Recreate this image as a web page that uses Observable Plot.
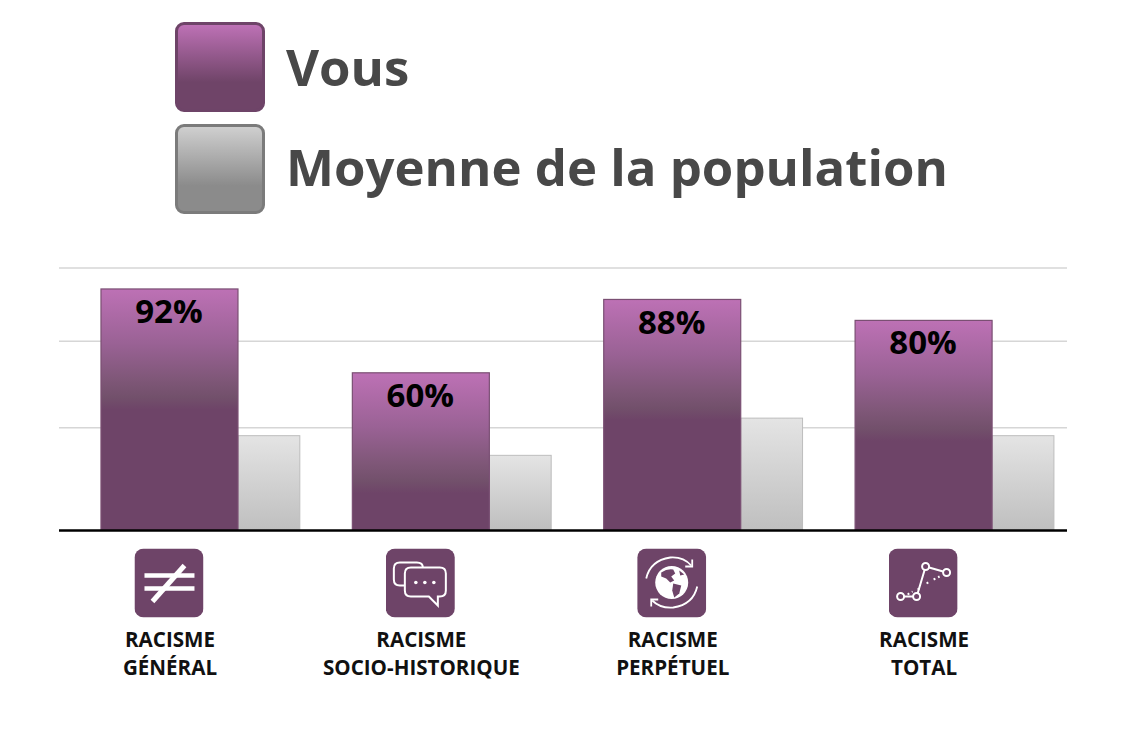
<!DOCTYPE html>
<html lang="fr">
<head>
<meta charset="utf-8">
<script src="https://cdn.jsdelivr.net/npm/d3@7"></script>
<script src="https://cdn.jsdelivr.net/npm/@observablehq/plot@0.6"></script>
<style>
html,body{margin:0;padding:0;background:#fff;width:1125px;height:746px;overflow:hidden}
#legend{position:relative;height:235px;width:1125px;font-family:"Open Sans",sans-serif;font-weight:700;color:#484848}
.sw{position:absolute;left:175px;width:84px;height:84px;border-radius:9px;border-style:solid;border-width:3px}
.lb{position:absolute;left:286px;font-size:50.9px;line-height:60px;white-space:nowrap}
svg{display:block}
</style>
</head>
<body>
<div id="legend">
  <div class="sw" style="top:22px;border-color:#6e4468;background:linear-gradient(#bd71b5 0%,#6f4468 68%,#6f4468 100%)"></div>
  <div class="lb" style="top:37px">Vous</div>
  <div class="sw" style="top:124px;border-color:#7b7b7b;background:linear-gradient(#cfcfcf 0%,#8b8b8b 70%,#8b8b8b 100%)"></div>
  <div class="lb" style="top:137px">Moyenne de la population</div>
</div>
<div id="chart"></div>
<script>
const categories = ["RACISME\nGÉNÉRAL", "RACISME\nSOCIO-HISTORIQUE", "RACISME\nPERPÉTUEL", "RACISME\nTOTAL"];
const vous = [92, 60, 88, 80];
const population = [36, 28.5, 42.7, 36];
const gridValues = [100, 72, 39];

const white = 'stroke="#fff" fill="none"';
const iconShapes = [
  `<path d="M10 27H60M10 40H60" ${white} stroke-width="4.5"/><path d="M50 17L18 53" ${white} stroke-width="5"/>`,
  `<path d="M20 37H14Q8 37 8 31V20Q8 14 14 14H31Q37 14 37 19" ${white} stroke-width="2"/>
   <path d="M25 19H54Q60 19 60 25V42Q60 48 54 48H52V57L43 48H25Q19 48 19 42V25Q19 19 25 19Z" ${white} stroke-width="2" style="fill:#6e4468"/>
   <circle cx="30" cy="34" r="1.8" fill="#fff"/><circle cx="39" cy="34" r="1.8" fill="#fff"/><circle cx="48" cy="34" r="1.8" fill="#fff"/>`,
  `<circle cx="34.5" cy="34" r="16.5" fill="#fff"/>
   <path d="M24 24Q30 20 36 21L38 25L34 28L37 32L33 34L29 30L24 28Z" fill="#6e4468"/>
   <path d="M36 35L44 37L42 45L37 49L35 42Z" fill="#6e4468"/><path d="M42 22L47 26L43 27Z" fill="#6e4468"/>
   <path d="M9 30Q13 12 33 9Q46 8 54 17" ${white} stroke-width="1.8"/><path d="M55 11L55 18L48 18" ${white} stroke-width="1.8"/>
   <path d="M60 38Q56 56 36 59Q23 60 15 52" ${white} stroke-width="1.8"/><path d="M14 58L14 51L21 51" ${white} stroke-width="1.8"/>`,
  `<path d="M19 46L24 43M29 41L33 39M38 35L41 33M45 31L51 28" ${white} stroke-width="2" stroke-dasharray="2 3"/>
   <path d="M15.5 48H24.5M29 45L36 21.5M40.5 19L54.5 23" ${white} stroke-width="2"/>
   <circle cx="12" cy="48" r="3.5" ${white} stroke-width="2"/><circle cx="28" cy="48" r="3.5" ${white} stroke-width="2"/>
   <circle cx="37" cy="18" r="3.5" ${white} stroke-width="2"/><circle cx="58" cy="24" r="3.5" ${white} stroke-width="2"/>`
];
const iconSrc = inner => "data:image/svg+xml;charset=utf-8," + encodeURIComponent(
  `<svg xmlns="http://www.w3.org/2000/svg" viewBox="0 0 69 69" width="69" height="69"><rect width="69" height="69" rx="9" fill="#6e4468"/>${inner}</svg>`);

// Layout in group units: each group = 1 step, a wide bar then a narrow bar
const wideBar = 0.545, narrowBar = 0.246;
const rows = categories.map((c, i) => ({
  c, i, vous: vous[i], pop: population[i],
  center: i + wideBar / 2,
  label: vous[i] + "%",
  icon: iconSrc(iconShapes[i])
}));

// The bars' gradient runs a fixed length from the top of each bar
const fadeLength = 46;
const gradients = () => {
  const defs = d3.create("svg:defs");
  rows.forEach(r => {
    const g = defs.append("linearGradient").attr("id", "v" + r.i).attr("x1", 0).attr("x2", 0).attr("y1", 0).attr("y2", 1);
    const end = fadeLength / r.vous;
    [[0, "#bd71b5"], [end * 0.45, "#9a6295"], [end * 0.75, "#7f5778"], [end * 0.9, "#72506b"], [end, "#6e4468"], [1, "#6e4468"]]
      .forEach(([o, c]) => g.append("stop").attr("offset", o).attr("stop-color", c));
  });
  const g = defs.append("linearGradient").attr("id", "grey").attr("x1", 0).attr("x2", 0).attr("y1", 0).attr("y2", 1);
  [[0, "#e4e4e4"], [1, "#bfbfbf"]].forEach(([o, c]) => g.append("stop").attr("offset", o).attr("stop-color", c));
  return defs.node();
};

const plot = Plot.plot({
  width: 1125, height: 511,
  marginTop: 33, marginBottom: 216, marginLeft: 59, marginRight: 58,
  x: {domain: [-0.167, 3.843], axis: null},
  y: {domain: [0, 100], axis: null},
  color: {type: "identity"},
  style: {background: "#fff", overflow: "visible"},
  marks: [
    gradients,
    Plot.ruleY(gridValues, {stroke: "#d6d6d6", strokeWidth: 1.5, dy: -0.5}),
    Plot.rectY(rows, {x1: d => d.i + wideBar, x2: d => d.i + wideBar + narrowBar, y1: 0, y2: "pop", fill: "url(#grey)", stroke: "#bdbdbd", strokeWidth: 1, inset: 0}),
    Plot.rectY(rows, {x1: "i", x2: d => d.i + wideBar, y1: 0, y2: "vous", fill: d => `url(#v${d.i})`, stroke: "#7a4f73", strokeWidth: 1.2, inset: 0}),
    Plot.ruleY([0], {stroke: "#000", strokeWidth: 2.4}),
    Plot.text(rows, {x: "center", y: "vous", text: "label", dx: -1, dy: 23, fontSize: 33, fontWeight: 700, fontFamily: "Open Sans", fill: "#000"}),
    Plot.image(rows, {x: "center", y: () => 0, src: d => d.icon, width: 69, height: 69, dx: -1, dy: 52.5}),
    Plot.text(rows, {x: "center", y: () => 0, text: "c", dy: 122, fontSize: 20.6, lineHeight: 1.36, fontWeight: 700, fontFamily: "Open Sans", fill: "#111", lineAnchor: "middle"})
  ]
});
document.getElementById("chart").append(plot);
</script>
</body>
</html>
